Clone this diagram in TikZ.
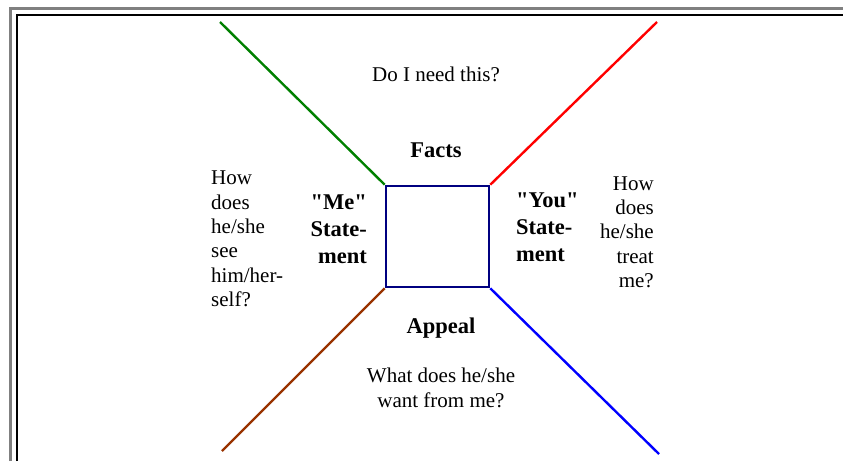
\documentclass[tikz,border=0pt]{standalone}
\usepackage{fontspec}
\setmainfont{Liberation Serif}
\usepackage{xcolor}
\usepackage{tikz}
\usetikzlibrary{positioning}

\definecolor{boxnavy}{HTML}{000080}
\definecolor{mefgreen}{HTML}{008000}
\definecolor{youred}{HTML}{FF0000}
\definecolor{appbrown}{HTML}{993300}
\definecolor{appblue}{HTML}{0000FF}
\definecolor{framegray}{HTML}{808080}

\begin{document}
\begin{tikzpicture}[x=1pt, y=-1pt, line width=2.4pt,
    ask/.style={inner sep=0pt, font=\fontsize{21}{24.3}\selectfont},
    side/.style={inner sep=0pt, font=\fontsize{22.5}{27}\selectfont\bfseries}]
  \useasboundingbox (0,0) rectangle (843,461);

  % frame
  \draw[framegray, line width=3pt] (10.5,461) -- (10.5,8.5) -- (843,8.5);
  \draw[black, line width=1.5pt] (17,461) -- (17,15) -- (843,15);

  % the four corners
  \coordinate (TL) at (220,22);
  \coordinate (TR) at (657,22);
  \coordinate (BL) at (222,451);
  \coordinate (BR) at (659,454);

  \node[draw=boxnavy, line width=2.6pt, minimum width=103pt, minimum height=101pt,
        inner sep=0pt] (box) at (437.5,236.5) {};

  \draw[mefgreen] (box.north west) -- (TL);
  \draw[youred]   (box.north east) -- (TR);
  \draw[appbrown] (box.south west) -- (BL);
  \draw[appblue]  (box.south east) -- (BR);

  \node[ask, anchor=base] (need) at (436,81) {Do I need this?};
  \node[side, anchor=base] (facts) at (436,157) {Facts};
  \node[side, anchor=base] (appeal) at (441,333) {Appeal};
  \node[ask, align=center] (want) at (441,388) {What does he/she\\want from me?};

  \node[side, align=right, anchor=east] (me) at (368,229)
    {\textquotedbl Me\textquotedbl\\State-\\ment};
  \node[side, align=left, anchor=west] (you) at (515,227)
    {\textquotedbl You\textquotedbl\\State-\\ment};

  \node[ask, align=left, anchor=west] (see) at (210,239)
    {How\\does\\he/she\\see\\him/her-\\self?};
  \node[ask, align=right, anchor=east] (treat) at (655,232)
    {How\\does\\he/she\\treat\\me?};
\end{tikzpicture}
\end{document}
